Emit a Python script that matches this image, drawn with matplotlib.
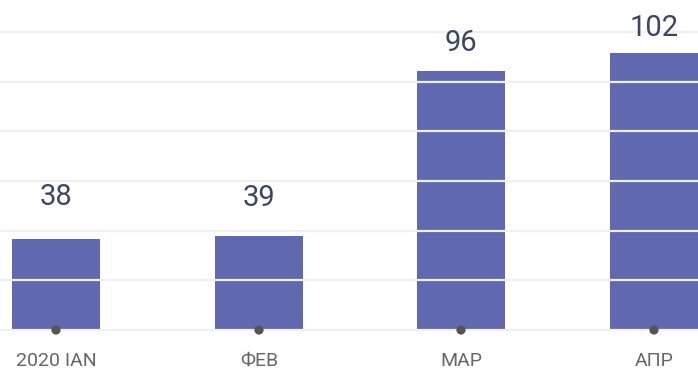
import matplotlib.pyplot as plt
import numpy as np

months = ["2020 IAN", "ФЕВ", "МАР", "АПР"]
counts = [38, 39, 96, 102]

# layout: bar centres (in bar-spacing units) and label lift in pixels
x_pos = [0.0, 1.015, 2.025, 2.99]
label_lift = [42, 38, 28, 25]

bar_color = "#6068b0"
label_color = "#3c4468"
tick_color = "#666666"
grid_color = "#f0f0f0"

plt.rcParams["font.family"] = ["Roboto", "DejaVu Sans"]

fig = plt.figure(figsize=(6.98, 3.69), dpi=100)
ax = fig.add_axes([0.0, 39 / 369, 1.0, 330 / 369])

ymin, ymax = 6.65, 120.3
ax.set_xlim(-0.28, 3.21)
ax.set_ylim(ymin, ymax)

ax.bar(x_pos, counts, width=0.44, color=bar_color, zorder=1)

# horizontal guides sit above the bars
for gy in np.linspace(ymin, 109.3, 7):
    ax.axhline(gy, color=grid_color, lw=1.6, zorder=2, clip_on=False)

ax.scatter(x_pos, [ymin] * len(x_pos), s=44, color="#555555", zorder=3,
           clip_on=False, edgecolors="none")

for x, v, lift in zip(x_pos, counts, label_lift):
    ax.annotate(str(v), (x, v), xytext=(0, lift * 0.72), textcoords="offset points",
                ha="center", va="center", fontsize=21, color=label_color)

ax.set_xticks(x_pos)
ax.set_xticklabels(months, fontsize=14, color=tick_color)
ax.tick_params(axis="x", length=0, pad=15.5)
ax.set_yticks([])
for s in ax.spines.values():
    s.set_visible(False)

fig.savefig("out.png", dpi=100)
